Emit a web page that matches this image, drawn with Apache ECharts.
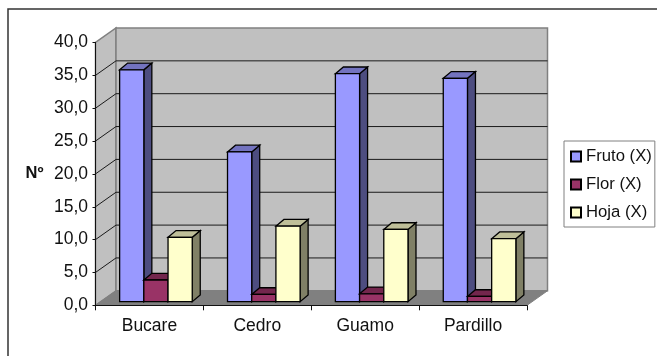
<!DOCTYPE html>
<html>
<head>
<meta charset="utf-8">
<style>html,body{margin:0;padding:0;background:#fff}#chart{width:657px;height:356px}</style>
<script src="https://cdn.jsdelivr.net/npm/echarts@6/dist/echarts.min.js"></script>
</head>
<body>
<div id="chart"></div>
<script>
// Counts per site, by plant part
const sites = ['Bucare', 'Cedro', 'Guamo', 'Pardillo'];
const fruto = [35.3, 22.8, 34.7, 34.0];
const flor = [3.3, 1.1, 1.2, 0.8];
const hoja = [9.8, 11.5, 11.0, 9.6];
const wallTicks = [0, 5, 10, 15, 20, 25, 30, 35, 40];
const seriesNames = ['Fruto (X)', 'Flor (X)', 'Hoja (X)'];
const seriesValues = [fruto, flor, hoja];
const faceColors = [
  { front: '#9999ff', top: '#7373bf', side: '#4d4d80' },
  { front: '#993366', top: '#73264d', side: '#4d1a33' },
  { front: '#ffffcc', top: '#bfbf99', side: '#808066' }
];

// Oblique projection of the chart box
const WALL_DX = 20.5, WALL_DY = -14.5;
const BAR_DX = 6.5, BAR_DY = -3.6;
const BAR_W = 24.2, BAR_DEPTH_X = 8, BAR_DEPTH_Y = 6.7;
const LINE = '#000';
const font = 'Liberation Sans, Arial, sans-serif';

function poly(points, fill, stroke, lineWidth) {
  return { type: 'polygon', shape: { points }, style: { fill, stroke, lineWidth } };
}

function renderBox(params, api) {
  const tick = api.value(0);
  const band = api.size([1, 0])[0];
  const first = api.coord([0, tick]);
  const ax = first[0] - band / 2, ay = first[1];
  const bx = api.coord([sites.length - 1, tick])[0] + band / 2;
  const back = [ax + WALL_DX, ay + WALL_DY];
  const backEnd = [bx + WALL_DX, ay + WALL_DY];
  const children = [];
  if (params.dataIndex === 0) {
    const top = api.coord([0, wallTicks[wallTicks.length - 1]])[1];
    children.push(poly([[ax, ay], back, [back[0], top + WALL_DY], [ax, top]], '#c0c0c0', '#808080', 1.5));
    children.push(poly([back, backEnd, [backEnd[0], top + WALL_DY], [back[0], top + WALL_DY]], '#c0c0c0', '#808080', 1.5));
    children.push(poly([[ax, ay], [bx, ay], backEnd, back], '#808080', '#808080', 1));
  } else if (params.dataIndex < wallTicks.length - 1) {
    const lineStyle = { stroke: '#1a1a1a', lineWidth: 1, fill: null };
    children.push({ type: 'polyline', shape: { points: [[ax, ay], back, backEnd] }, style: lineStyle });
  }
  return { type: 'group', children };
}

function renderBar(seriesIdx) {
  return function (params, api) {
    const cat = api.value(0), val = api.value(1);
    const center = api.coord([cat, 0])[0];
    const x0 = center + BAR_DX + (seriesIdx - 1.5) * BAR_W;
    const x1 = x0 + BAR_W;
    const yBase = api.coord([cat, 0])[1] + BAR_DY;
    const yTop = api.coord([cat, val])[1] + BAR_DY;
    const c = faceColors[seriesIdx];
    const dx = BAR_DEPTH_X, dy = BAR_DEPTH_Y;
    return {
      type: 'group',
      children: [
        poly([[x1, yTop], [x1 + dx, yTop - dy], [x1 + dx, yBase - dy], [x1, yBase]], c.side, LINE, 1.3),
        poly([[x0, yTop], [x0 + dx, yTop - dy], [x1 + dx, yTop - dy], [x1, yTop]], c.top, LINE, 1.3),
        poly([[x0, yTop], [x1, yTop], [x1, yBase], [x0, yBase]], c.front, LINE, 1.3)
      ]
    };
  };
}

const chart = echarts.init(document.getElementById('chart'), null, { renderer: 'canvas' });
chart.setOption({
  animation: false,
  backgroundColor: '#fff',
  graphic: [{
    type: 'rect', silent: true, z: -10,
    shape: { x: 8, y: 9, width: 700, height: 400 },
    style: { fill: null, stroke: '#333', lineWidth: 1.5 }
  }],
  grid: { left: 95.5, top: 42.5, width: 431.5, height: 262.8 },
  legend: {
    orient: 'vertical', left: 564, top: 141,
    padding: [7, 3, 6, 6],
    itemGap: 11, itemWidth: 10, itemHeight: 10,
    icon: 'rect',
    backgroundColor: '#fff', borderColor: '#808080', borderWidth: 1,
    data: seriesNames,
    textStyle: { fontFamily: font, fontSize: 16.7, color: '#111' }
  },
  xAxis: {
    type: 'category', data: sites,
    axisTick: { show: true, alignWithLabel: false, length: 5, lineStyle: { color: '#111' } },
    axisLine: { lineStyle: { color: '#111', width: 1 } },
    axisLabel: { fontFamily: font, fontSize: 17.5, color: '#111', margin: 12 },
    z: 5
  },
  yAxis: {
    type: 'value', min: 0, max: 40, interval: 5,
    name: 'Nº', nameLocation: 'middle', nameRotate: 0, nameGap: 52,
    nameTextStyle: { fontFamily: font, fontSize: 16.5, fontWeight: 'bold', color: '#111' },
    splitLine: { show: false },
    axisLine: { show: true, lineStyle: { color: '#111', width: 1 } },
    axisTick: { show: true, length: 3, lineStyle: { color: '#111' } },
    axisLabel: {
      fontFamily: font, fontSize: 17.5, color: '#111', margin: 7.5, padding: [4, 0, 0, 0],
      formatter: v => v.toFixed(1).replace('.', ',')
    },
    z: 5
  },
  series: [
    {
      type: 'custom', z: 1, silent: true, legendHoverLink: false,
      renderItem: renderBox,
      encode: { x: 1, y: 0 },
      data: wallTicks.map(t => [t, 0]),
      clip: false
    },
    ...seriesNames.map((name, i) => ({
      type: 'custom', name, z: 2 + i, clip: false,
      itemStyle: { color: faceColors[i].front, borderColor: '#000', borderWidth: 1 },
      renderItem: renderBar(i),
      encode: { x: 0, y: 1 },
      data: seriesValues[i].map((v, k) => [k, v])
    }))
  ]
});
</script>
</body>
</html>
